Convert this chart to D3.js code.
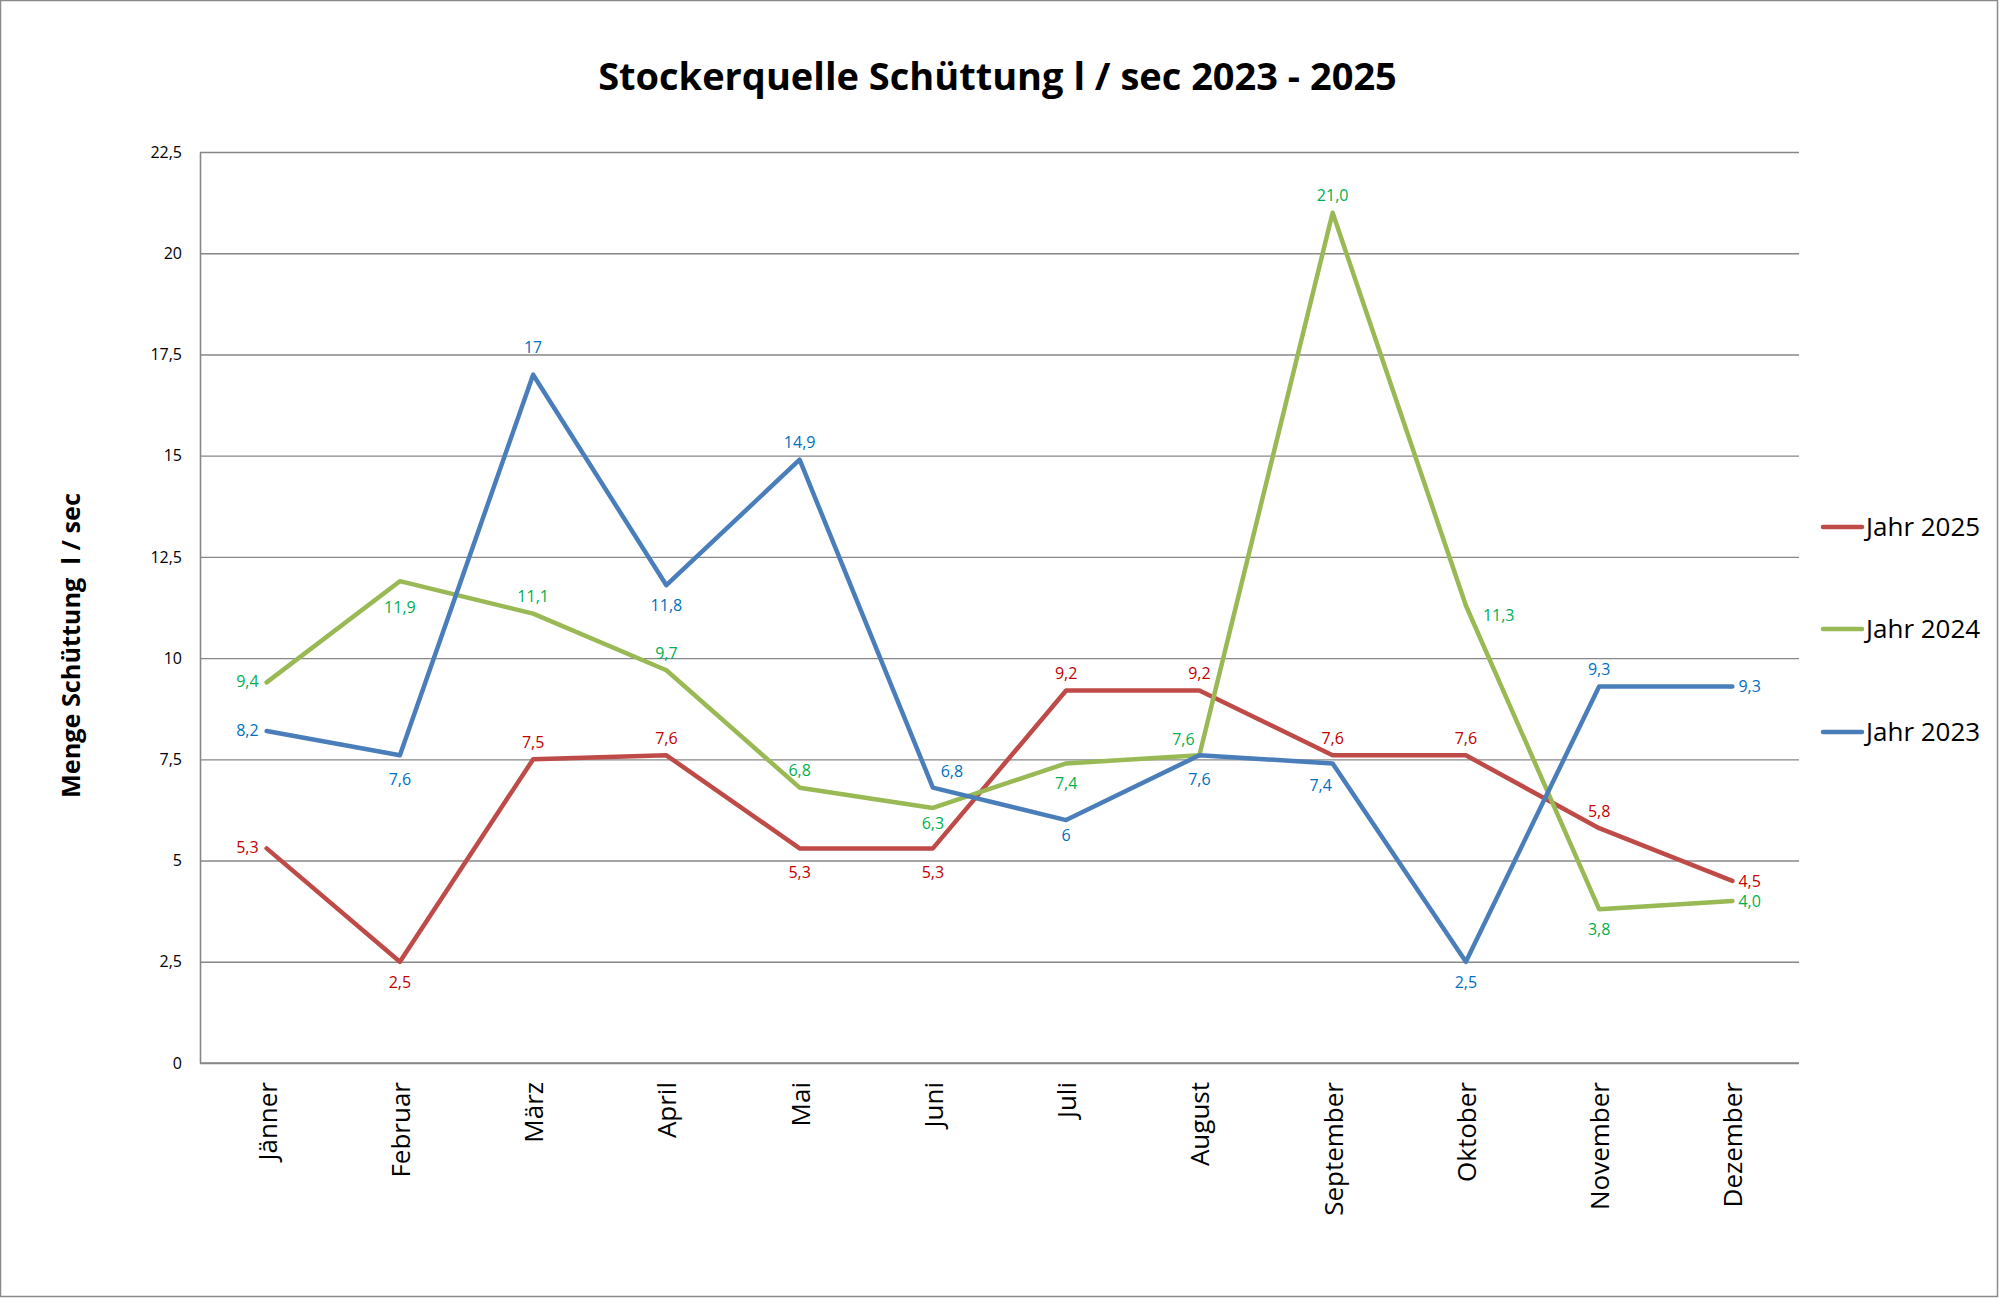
<!DOCTYPE html>
<html>
<head>
<meta charset="utf-8">
<script src="https://cdn.jsdelivr.net/npm/d3@7"></script>
<style>
  html, body { margin: 0; padding: 0; background: #fff; }
  svg { display: block; }
  text { font-family: "Open Sans", "Noto Sans", sans-serif; }
</style>
</head>
<body>
<svg id="chart" width="2000" height="1298"></svg>
<script>
// ---------------- data ----------------
const months = ["Jänner","Februar","März","April","Mai","Juni","Juli","August","September","Oktober","November","Dezember"];
const jahr2025 = [5.3, 2.5, 7.5, 7.6, 5.3, 5.3, 9.2, 9.2, 7.6, 7.6, 5.8, 4.5];
const jahr2024 = [9.4, 11.9, 11.1, 9.7, 6.8, 6.3, 7.4, 7.6, 21.0, 11.3, 3.8, 4.0];
const jahr2023 = [8.2, 7.6, 17, 11.8, 14.9, 6.8, 6, 7.6, 7.4, 2.5, 9.3, 9.3];
const seriesNames = ["Jahr 2025", "Jahr 2024", "Jahr 2023"];
const yTicks = [0, 2.5, 5, 7.5, 10, 12.5, 15, 17.5, 20, 22.5];
const titleText = "Stockerquelle Schüttung l / sec 2023 - 2025";
const yTitleText = "Menge Schüttung\u00A0\u00A0l / sec";

// label placement per point (t=above, b=below, l=left, r=right, diagonals / variants)
const place2025 = ["l","b","t","t","b2","b2","t","t","t","t","t","r"];
const place2024 = ["l","b3","t","t","t","b1","b","tl","t","r2","b","r"];
const place2023 = ["l","b2","t2","b","t","tr","b1","b2","bl","b","t","r"];

// ---------------- layout ----------------
const svg = d3.select("#chart");
const plot = { left: 200, right: 1799, top: 152, bottom: 1063 };

const x = d3.scalePoint().domain(months).range([plot.left, plot.right]).padding(0.5);
const y = d3.scaleLinear().domain([0, 22.5]).range([plot.bottom, plot.top]);

const fmtGeneral = d => String(d).replace(".", ",");
const fmtOne = d => d.toFixed(1).replace(".", ",");

const series = [
  { name: seriesNames[0], values: jahr2025, place: place2025, line: "#BE4B48", label: "#C00000", fmt: fmtGeneral },
  { name: seriesNames[1], values: jahr2024, place: place2024, line: "#98B954", label: "#00B050", fmt: fmtOne },
  { name: seriesNames[2], values: jahr2023, place: place2023, line: "#4A7EBB", label: "#0070C0", fmt: fmtGeneral }
];

// outer border
svg.append("rect")
  .attr("x", 0.5).attr("y", 0.5).attr("width", 1997).attr("height", 1296)
  .attr("fill", "#fff").attr("stroke", "#8a8a8a").attr("stroke-width", 1.5);

// gridlines
const grid = svg.append("g").attr("transform", `translate(${plot.left},0)`)
  .call(d3.axisLeft(y).tickValues(yTicks).tickSize(-(plot.right - plot.left)).tickFormat(""));
grid.select(".domain").remove();
grid.selectAll("line").attr("stroke", "#878787").attr("stroke-width", 1.4);

// y axis
const yAxis = svg.append("g").attr("transform", `translate(${plot.left},0)`)
  .call(d3.axisLeft(y).tickValues(yTicks).tickSize(0).tickPadding(18).tickFormat(fmtGeneral));
yAxis.select(".domain").attr("stroke", "#878787").attr("stroke-width", 1.6);
yAxis.selectAll("text").attr("font-size", 16).attr("fill", "#000")
  .attr("font-family", "'Open Sans', sans-serif");

// x axis
const xAxis = svg.append("g").attr("transform", `translate(0,${plot.bottom})`)
  .call(d3.axisBottom(x).tickSize(0).tickPadding(0));
xAxis.select(".domain").attr("stroke", "#878787").attr("stroke-width", 1.6)
  .attr("d", `M${plot.left},0H${plot.right}`);
xAxis.selectAll(".tick text")
  .attr("font-size", 26).attr("fill", "#000")
  .attr("font-family", "'Open Sans', sans-serif")
  .attr("text-anchor", "end")
  .attr("y", 0).attr("x", 0).attr("dy", "0.36em")
  .attr("transform", "translate(0,19) rotate(-90)");

// lines
const lineGen = d3.line().x((d, i) => x(months[i])).y(d => y(d));
series.forEach(s => {
  svg.append("path")
    .datum(s.values)
    .attr("d", lineGen)
    .attr("fill", "none")
    .attr("stroke", s.line)
    .attr("stroke-width", 4.5)
    .attr("stroke-linejoin", "round")
    .attr("stroke-linecap", "round");
});

// data labels
const offsets = {
  t:  { dx: 0,   dy: -17, anchor: "middle" },
  t2: { dx: 0,   dy: -27, anchor: "middle" },
  b:  { dx: 0,   dy: 20,  anchor: "middle" },
  b1: { dx: 0,   dy: 15,  anchor: "middle" },
  b2: { dx: 0,   dy: 24,  anchor: "middle" },
  b3: { dx: 0,   dy: 26,  anchor: "middle" },
  l:  { dx: -8,  dy: -1,  anchor: "end" },
  r:  { dx: 6,   dy: 0,   anchor: "start" },
  r2: { dx: 17,  dy: 10,  anchor: "start" },
  tl: { dx: -16, dy: -16, anchor: "middle" },
  tr: { dx: 19,  dy: -16, anchor: "middle" },
  bl: { dx: -12, dy: 22,  anchor: "middle" }
};
series.forEach(s => {
  svg.append("g").selectAll("text")
    .data(s.values)
    .join("text")
    .attr("x", (d, i) => x(months[i]) + offsets[s.place[i]].dx)
    .attr("y", (d, i) => y(d) + offsets[s.place[i]].dy)
    .attr("dy", "0.36em")
    .attr("text-anchor", (d, i) => offsets[s.place[i]].anchor)
    .attr("font-size", 16)
    .attr("fill", s.label)
    .text(d => s.fmt(d));
});

// title
const title = svg.append("text")
  .attr("x", 997.5).attr("y", 90)
  .attr("text-anchor", "middle")
  .attr("font-size", 40).attr("font-weight", "bold").attr("fill", "#000")
  .text(titleText);
{
  const w = title.node().getComputedTextLength();
  title.attr("font-size", 40 * 799 / w);
}

// y-axis title
const yTitle = svg.append("text")
  .attr("transform", "translate(80,645.5) rotate(-90)")
  .attr("text-anchor", "middle")
  .attr("font-size", 24).attr("font-weight", "bold").attr("fill", "#000")
  .text(yTitleText);
{
  const w = yTitle.node().getComputedTextLength();
  yTitle.attr("font-size", 24 * 305 / w);
}

// legend
const legendY = [527, 629, 732];
const legend = svg.append("g");
series.forEach((s, i) => {
  legend.append("line")
    .attr("x1", 1823).attr("x2", 1862)
    .attr("y1", legendY[i]).attr("y2", legendY[i])
    .attr("stroke", s.line).attr("stroke-width", 4.5).attr("stroke-linecap", "round");
  legend.append("text")
    .attr("x", 1866).attr("y", legendY[i]).attr("dy", "0.36em")
    .attr("font-size", 26).attr("fill", "#000")
    .text(s.name);
});
</script>
</body>
</html>
